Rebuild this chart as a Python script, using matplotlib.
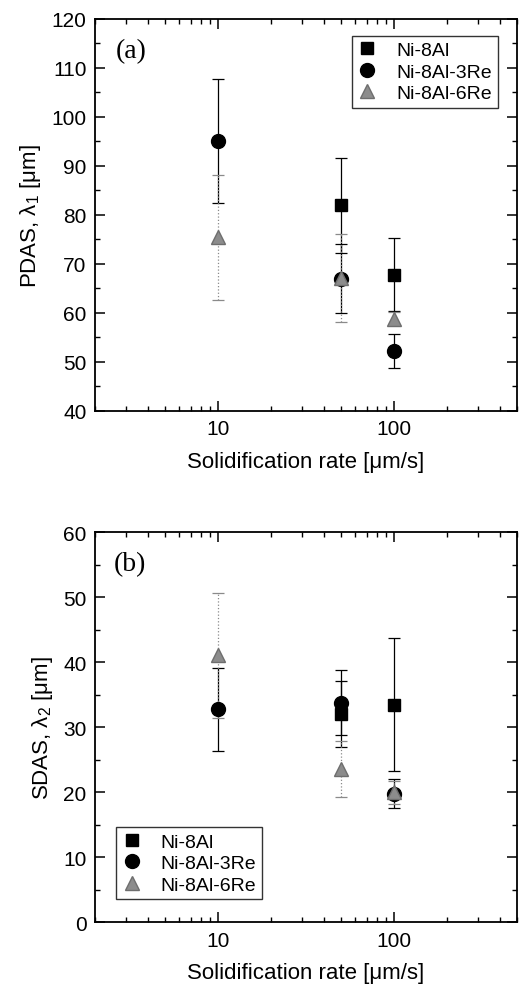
import numpy as np
import matplotlib
matplotlib.use('Agg')
import matplotlib.pyplot as plt
from matplotlib.ticker import FixedLocator, MultipleLocator, NullFormatter

plt.rcParams['font.family'] = ['Liberation Sans', 'DejaVu Sans']
plt.rcParams['mathtext.fontset'] = 'custom'
plt.rcParams['mathtext.rm'] = 'Liberation Sans'
plt.rcParams['mathtext.it'] = 'Liberation Sans:italic'

# ── Data ──────────────────────────────────────────────────────────────
rate = [10, 50, 100]
series = ['Ni-8Al', 'Ni-8Al-3Re', 'Ni-8Al-6Re']

# (a) primary dendrite arm spacing
pdas_rate = {'Ni-8Al': [50, 100], 'Ni-8Al-3Re': [10, 50, 100], 'Ni-8Al-6Re': [10, 50, 100]}
pdas_val = {'Ni-8Al': [82.0, 67.8], 'Ni-8Al-3Re': [95.1, 67.0, 52.2], 'Ni-8Al-6Re': [75.4, 67.1, 58.8]}
pdas_err = {'Ni-8Al': [9.7, 7.5], 'Ni-8Al-3Re': [12.7, 7.0, 3.5], 'Ni-8Al-6Re': [12.7, 9.0, 1.3]}

# (b) secondary dendrite arm spacing
sdas_rate = {'Ni-8Al': [50, 100], 'Ni-8Al-3Re': [10, 50, 100], 'Ni-8Al-6Re': [10, 50, 100]}
sdas_val = {'Ni-8Al': [32.0, 33.5], 'Ni-8Al-3Re': [32.8, 33.8, 19.8], 'Ni-8Al-6Re': [41.1, 23.6, 20.0]}
sdas_err = {'Ni-8Al': [5.1, 10.2], 'Ni-8Al-3Re': [6.4, 5.0, 2.2], 'Ni-8Al-6Re': [9.6, 4.3, 1.8]}

STYLE = {
    'Ni-8Al':     dict(marker='s', ms=9, mfc='black', mec='black', ecolor='black', ls='-'),
    'Ni-8Al-3Re': dict(marker='o', ms=10, mfc='black', mec='black', ecolor='black', ls='-'),
    'Ni-8Al-6Re': dict(marker='^', ms=10, mfc='#8c8c8c', mec='#6e6e6e', ecolor='#8a8a8a', ls=':'),
}


def draw(ax, xs, ys, es):
    for name in series:
        st = STYLE[name]
        eb = ax.errorbar(xs[name], ys[name], yerr=es[name], fmt='none',
                         ecolor=st['ecolor'], elinewidth=0.9, capsize=4, capthick=0.9)
        eb[2][0].set_linestyle(st['ls'])
    for name in series:
        st = STYLE[name]
        ax.plot(xs[name], ys[name], ls='none', marker=st['marker'], ms=st['ms'],
                mfc=st['mfc'], mec=st['mec'], label=name)


def style_axes(ax):
    ax.set_xscale('log')
    ax.set_xlim(2, 500)
    ax.xaxis.set_major_locator(FixedLocator([10, 100]))
    ax.xaxis.set_minor_locator(FixedLocator([2, 3, 4, 5, 6, 7, 8, 9, 20, 30, 40, 50, 60,
                                             70, 80, 90, 200, 300, 400, 500]))
    ax.xaxis.set_minor_formatter(NullFormatter())
    ax.set_xticklabels(['10', '100'])
    ax.tick_params(which='both', direction='in', top=True, right=True, labelsize=15)
    ax.tick_params(which='major', length=7, width=1.1, pad=6)
    ax.tick_params(which='minor', length=3.5, width=1.0)
    for s in ax.spines.values():
        s.set_linewidth(1.3)
    ax.set_xlabel('Solidification rate [μm/s]', fontsize=16, labelpad=9)


fig = plt.figure(figsize=(5.22, 9.95), dpi=100)
ax1 = fig.add_axes([0.182, 0.586, 0.808, 0.394])
ax2 = fig.add_axes([0.182, 0.072, 0.808, 0.392])

# panel (a)
draw(ax1, pdas_rate, pdas_val, pdas_err)
style_axes(ax1)
ax1.set_ylim(40, 120)
ax1.yaxis.set_major_locator(MultipleLocator(10))
ax1.yaxis.set_minor_locator(MultipleLocator(5))
ax1.set_ylabel('PDAS, λ$_1$ [μm]', fontsize=16, labelpad=6)
ax1.text(0.05, 0.92, '(a)', transform=ax1.transAxes, fontsize=20,
         family='Liberation Serif', va='center', ha='left')
leg1 = ax1.legend(loc='upper right', bbox_to_anchor=(0.955, 0.957), borderaxespad=0,
                  fontsize=14, frameon=True, fancybox=False, edgecolor='black',
                  labelspacing=0.2, handlelength=1.0, handletextpad=1.0,
                  borderpad=0.3, numpoints=1)
leg1.get_frame().set_linewidth(1.0)

# panel (b)
draw(ax2, sdas_rate, sdas_val, sdas_err)
style_axes(ax2)
ax2.set_ylim(0, 60)
ax2.yaxis.set_major_locator(MultipleLocator(10))
ax2.yaxis.set_minor_locator(MultipleLocator(5))
ax2.set_ylabel('SDAS, λ$_2$ [μm]', fontsize=16, labelpad=6)
ax2.text(0.045, 0.92, '(b)', transform=ax2.transAxes, fontsize=20,
         family='Liberation Serif', va='center', ha='left')
leg2 = ax2.legend(loc='lower left', bbox_to_anchor=(0.05, 0.059), borderaxespad=0,
                  fontsize=14, frameon=True, fancybox=False, edgecolor='black',
                  labelspacing=0.2, handlelength=1.0, handletextpad=1.0,
                  borderpad=0.3, numpoints=1)
leg2.get_frame().set_linewidth(1.0)

fig.savefig('out.png', dpi=100)
